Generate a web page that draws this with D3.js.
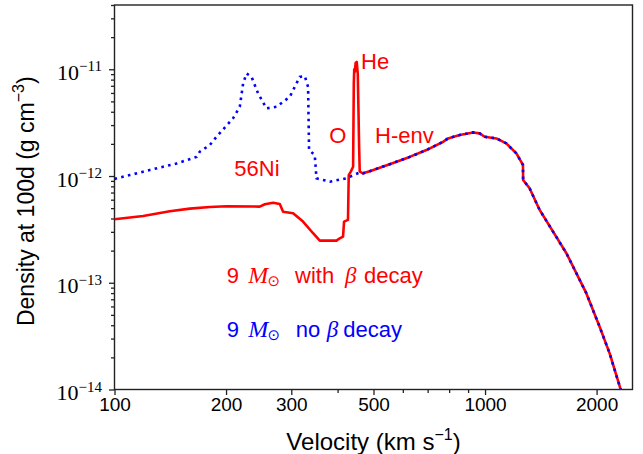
<!DOCTYPE html>
<html>
<head>
<meta charset="utf-8">
<script src="https://cdn.jsdelivr.net/npm/d3@7"></script>
<style>
  body { margin: 0; background: #fff; }
  svg { display: block; }
</style>
</head>
<body>
<svg id="chart" width="643" height="454"></svg>
<script>
// Ejecta density at day 100 versus expansion velocity (km/s, g/cm^3).

// Inner ejecta of the 9 Msun model with beta-decay heating
const coreVelBeta = [100, 119.5, 141, 159.7, 180.8, 200.6, 246.6, 254.5, 267.9, 279.3,
  285.1, 303.4, 322.7, 343.5, 358.1, 397.2, 405.5, 413.8, 416.4, 426.7, 428.7, 434.2,
  440.5, 442.4, 443.6, 445.5, 447.5, 450.5, 453.5, 455.5, 457.1, 459.0];
const coreRhoBeta = [3.94e-13, 4.22e-13, 4.67e-13, 4.95e-13, 5.13e-13, 5.21e-13, 5.17e-13,
  5.44e-13, 5.62e-13, 5.47e-13, 4.63e-13, 4.48e-13, 3.74e-13, 2.91e-13, 2.48e-13,
  2.48e-13, 2.61e-13, 2.71e-13, 3.74e-13, 3.88e-13, 1.02e-12, 1.10e-12, 1.22e-12,
  7.4e-12, 1.0e-11, 9.5e-12, 1.15e-11, 1.17e-11, 9.0e-12, 4.0e-12, 2.0e-12, 1.10e-12];

// Inner ejecta of the same model without beta decay
const coreVelNoBeta = [100, 110, 124.6, 147.1, 166.5, 169.9, 180.8, 188.5, 208.9, 217.8,
  222.4, 227.1, 234.3, 244.1, 257.1, 273.6, 297.2, 316.2, 326.2, 333.0, 335.0, 347.1,
  350.8, 381.0, 422.6, 459.0];
const coreRhoNoBeta = [9.4e-13, 1.02e-12, 1.14e-12, 1.31e-12, 1.51e-12, 1.69e-12, 1.95e-12,
  2.33e-12, 3.47e-12, 4.45e-12, 7.36e-12, 9.14e-12, 8.49e-12, 5.94e-12, 4.30e-12,
  4.45e-12, 5.52e-12, 8.49e-12, 8.62e-12, 6.84e-12, 1.75e-12, 1.57e-12, 9.52e-13,
  8.85e-13, 9.52e-13, 1.08e-12];

// Hydrogen envelope, shared by both models
const envVel = [468.5, 488.5, 552.9, 626.0, 694.6, 770.0, 794.3, 854.3, 927.7, 967.0,
  997.5, 1073, 1141, 1215, 1265.6, 1267, 1319, 1404, 1658, 1876, 2037, 2168, 2317, 2400];
const envRho = [1.06e-12, 1.11e-12, 1.29e-12, 1.51e-12, 1.75e-12, 2.09e-12, 2.25e-12,
  2.42e-12, 2.56e-12, 2.51e-12, 2.33e-12, 2.25e-12, 2.02e-12, 1.63e-12, 1.27e-12,
  9.18e-13, 7.67e-13, 4.81e-13, 1.89e-13, 7.99e-14, 3.89e-14, 2.19e-14, 1.03e-14, 7e-15];

const xMajorTicks = [100, 200, 300, 500, 1000, 2000];
const xMinorTicks = [400, 600, 700, 800, 900];
const yMajorTicks = [1e-14, 1e-13, 1e-12, 1e-11];
const yTickExponents = ["\u221214", "\u221213", "\u221212", "\u221211"];

const svg = d3.select("#chart");
const plot = { left: 114.5, right: 632.5, top: 5, bottom: 389.5 };

const x = d3.scaleLog().domain([100, 2500]).range([plot.left, plot.right]);
const y = d3.scaleLog().domain([1e-14, 4e-11]).range([plot.bottom, plot.top]);

const sans = "'Liberation Sans', Arial, sans-serif";
const serif = "'Liberation Serif', 'Times New Roman', serif";

// minor y ticks: 2..9 times each decade inside the domain
const yMinorTicks = [];
for (let e = -14; e <= -11; e++) {
  for (let m = 2; m <= 9; m++) {
    const v = m * Math.pow(10, e);
    if (v <= y.domain()[1]) yMinorTicks.push(v);
  }
}

svg.append("defs").append("clipPath").attr("id", "plot-clip")
  .append("rect")
  .attr("x", plot.left).attr("y", plot.top)
  .attr("width", plot.right - plot.left).attr("height", plot.bottom - plot.top);

// ---- axes ----
const axisColor = "#222";
function styleAxis(g) {
  g.select(".domain").remove();
  g.selectAll(".tick line").attr("stroke", axisColor).attr("stroke-width", 1.3);
}

svg.append("g")
  .attr("transform", `translate(0,${plot.bottom})`)
  .call(d3.axisBottom(x).tickValues(xMinorTicks).tickSize(3.5).tickFormat(""))
  .call(styleAxis);

const xAxis = svg.append("g")
  .attr("transform", `translate(0,${plot.bottom})`)
  .call(d3.axisBottom(x).tickValues(xMajorTicks).tickSize(5.5).tickFormat(d3.format("d")))
  .call(styleAxis);
xAxis.selectAll(".tick text")
  .attr("y", 21).attr("dy", 0)
  .attr("fill", "#000")
  .style("font-family", sans).style("font-size", "19px");

svg.append("g")
  .attr("transform", `translate(${plot.left},0)`)
  .call(d3.axisLeft(y).tickValues(yMinorTicks).tickSize(3.5).tickFormat(""))
  .call(styleAxis);

const yAxis = svg.append("g")
  .attr("transform", `translate(${plot.left},0)`)
  .call(d3.axisLeft(y).tickValues(yMajorTicks).tickSize(5.5).tickFormat(""))
  .call(styleAxis);

yAxis.selectAll(".tick").each(function (d, i) {
  const t = d3.select(this).append("text")
    .attr("x", -12.5).attr("y", 10)
    .attr("text-anchor", "end")
    .attr("fill", "#000")
    .style("font-family", serif);
  t.append("tspan").style("font-size", "22px").text("10");
  t.append("tspan").style("font-size", "15px").attr("dy", -8.3).text(yTickExponents[i]);
});

// frame
svg.append("rect")
  .attr("x", plot.left).attr("y", plot.top)
  .attr("width", plot.right - plot.left).attr("height", plot.bottom - plot.top)
  .attr("fill", "none").attr("stroke", axisColor).attr("stroke-width", 1.4);

// axis titles
const xTitle = svg.append("text")
  .attr("x", (plot.left + plot.right) / 2).attr("y", 450)
  .attr("text-anchor", "middle")
  .style("font-family", sans).style("font-size", "24px");
xTitle.append("tspan").text("Velocity (km s");
xTitle.append("tspan").style("font-size", "16px").attr("dy", -10).text("\u22121");
xTitle.append("tspan").attr("dy", 10).text(")");

const yTitle = svg.append("text")
  .attr("transform", `translate(34,${(plot.top + plot.bottom) / 2 + 4}) rotate(-90)`)
  .attr("text-anchor", "middle")
  .style("font-family", sans).style("font-size", "23px");
yTitle.append("tspan").text("Density at 100d (g cm");
yTitle.append("tspan").style("font-size", "16px").attr("dy", -10).text("\u22123");
yTitle.append("tspan").attr("dy", 10).text(")");

// ---- curves ----
const line = d3.line().x(d => x(d[0])).y(d => y(d[1]));
const betaSeries = d3.zip(coreVelBeta.concat(envVel), coreRhoBeta.concat(envRho));
const noBetaSeries = d3.zip(coreVelNoBeta.concat(envVel), coreRhoNoBeta.concat(envRho));

const curves = svg.append("g").attr("clip-path", "url(#plot-clip)");
curves.append("path")
  .datum(betaSeries)
  .attr("d", line)
  .attr("fill", "none").attr("stroke", "#ff0000")
  .attr("stroke-width", 2.6).attr("stroke-linejoin", "round");
curves.append("path")
  .datum(noBetaSeries)
  .attr("d", line)
  .attr("fill", "none").attr("stroke", "#0000ff")
  .attr("stroke-width", 2.6).attr("stroke-dasharray", "2.6 4.3");

// ---- region labels ----
const regionLabels = [
  { text: "56Ni", x: 234.3, y: 176 },
  { text: "O", x: 329.3, y: 143.3 },
  { text: "H-env", x: 375, y: 143.3 },
  { text: "He", x: 361, y: 69.3 }
];
svg.append("g").selectAll("text").data(regionLabels).join("text")
  .attr("x", d => d.x).attr("y", d => d.y)
  .attr("fill", "#ff0000")
  .style("font-family", sans).style("font-size", "22px")
  .text(d => d.text);

// ---- legend ----
const legendItems = [
  { color: "#ff0000", y: 283.3, word: "with", wordX: 295, betaX: 345, decayX: 364 },
  { color: "#0000ff", y: 337.3, word: "no", wordX: 295.7, betaX: 326.7, decayX: 343.3 }
];
legendItems.forEach(item => {
  const t = svg.append("text").attr("y", item.y).attr("fill", item.color)
    .style("font-family", sans).style("font-size", "22px");
  t.append("tspan").attr("x", 226.7).text("9");
  t.append("tspan").attr("x", 248.3).style("font-family", serif)
    .style("font-style", "italic").style("font-size", "24px").text("M");
  t.append("tspan").attr("x", 267.5).attr("dy", 3)
    .style("font-family", "'DejaVu Sans', sans-serif").style("font-size", "15px").text("\u2299");
  t.append("tspan").attr("x", item.wordX).attr("dy", -3).text(item.word);
  t.append("tspan").attr("x", item.betaX).style("font-family", serif)
    .style("font-style", "italic").style("font-size", "23px").text("\u03b2");
  t.append("tspan").attr("x", item.decayX).text("decay");
});
</script>
</body>
</html>
